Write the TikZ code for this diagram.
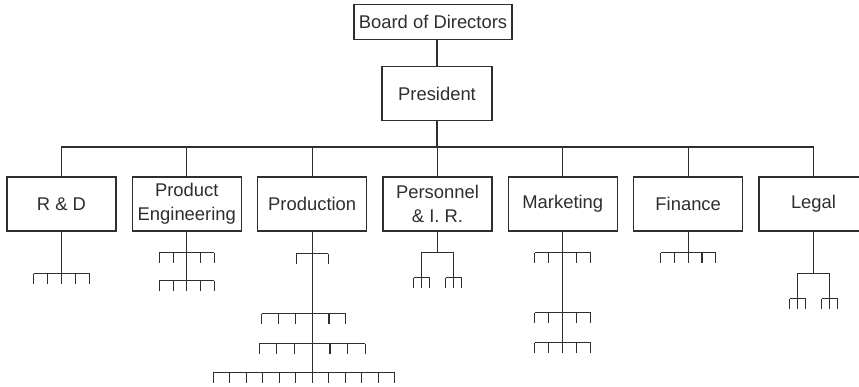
\documentclass[tikz,border=0pt]{standalone}
\usepackage{fontspec}
\setmainfont{Liberation Sans}
\usetikzlibrary{calc}

\definecolor{ink}{gray}{0.18}

\tikzset{
  unit/.style={draw, rectangle, minimum width=81.75pt, minimum height=40.5pt, align=center, inner sep=1pt},
}

% rake: centre coordinate, spacing, ticks left, ticks right
\newcommand\rake[4]{%
  \draw ($(#1)+(-#3*#2,0)$) -- ($(#1)+(#4*#2,0)$);
  \foreach \k in {-#3,...,#4} {\draw ($(#1)+(\k*#2,0)$) -- ++(0,10);}
}

\begin{document}
\begin{tikzpicture}[x=0.75pt, y=-0.75pt, line width=0.9pt, color=ink, every node/.style={font=\fontsize{13.8}{18}\selectfont}]
    \useasboundingbox (0,0) rectangle (859,386);

    % Direction
    \node[draw, rectangle, minimum width=118.5pt, minimum height=26pt] (board) at (433,22) {Board of Directors};
    \node[draw, rectangle, minimum width=82.5pt, minimum height=40pt] (pres) at (437,93.5) {President};

    % Departements
    \node[unit] (rd) at (61.5,204) {R \& D};
    \node[unit] (pe) at (186.8,204) {Product\\Engineering};
    \node[unit] (prod) at (312.2,204) {Production};
    \node[unit] (pers) at (437.5,204) {Personnel\\\& I. R.};
    \node[unit] (mkt) at (562.8,204) {Marketing};
    \node[unit] (fin) at (688.2,204) {Finance};
    \node[unit] (legal) at (813.5,204) {Legal};

    % Liens
    \coordinate (bus) at (437,147);
    \draw (board.south -| pres) -- (pres.north);
    \draw (pres.south) -- (bus);
    \draw (rd.north) |- (bus) -| (legal.north);
    \foreach \d in {pe,prod,pers,mkt,fin} \draw (\d.north) -- (\d.north |- bus);

    % R & D
    \coordinate (rd1) at ($(rd.south)+(0,42)$);
    \draw (rd.south) -- (rd1);
    \rake{rd1}{14}{2}{2}

    % Product Engineering
    \coordinate (pe1) at ($(pe.south)+(0,21)$);
    \coordinate (pe2) at ($(pe.south)+(0,49)$);
    \draw (pe.south) -- (pe2);
    \rake{pe1}{13.7}{2}{2}
    \rake{pe2}{13.7}{2}{2}

    % Production
    \coordinate (p1) at ($(prod.south)+(0,22)$);
    \coordinate (p2) at ($(prod.south)+(0,82)$);
    \coordinate (p3) at ($(prod.south)+(0,112)$);
    \coordinate (p4) at ($(prod.south)+(0,141)$);
    \draw (prod.south) -- (p4);
    \rake{p1}{16}{1}{1}
    \rake{p2}{16.8}{3}{2}
    \rake{p3}{17.7}{3}{3}
    \rake{p4}{16.5}{6}{5}

    % Personnel
    \coordinate (pers1) at ($(pers.south)+(0,21)$);
    \coordinate (persL) at ($(pers1)+(-16,25)$);
    \coordinate (persR) at ($(pers1)+(16,25)$);
    \draw (pers.south) -- (pers1);
    \draw (persL) |- (pers1) -| (persR);
    \rake{persL}{8}{1}{1}
    \rake{persR}{8}{1}{1}

    % Marketing
    \coordinate (m1) at ($(mkt.south)+(0,21)$);
    \coordinate (m2) at ($(mkt.south)+(0,81)$);
    \coordinate (m3) at ($(mkt.south)+(0,111)$);
    \draw (mkt.south) -- (m3);
    \rake{m1}{14}{2}{2}
    \rake{m2}{14}{2}{2}
    \rake{m3}{14}{2}{2}

    % Finance
    \coordinate (f1) at ($(fin.south)+(0,21)$);
    \draw (fin.south) -- (f1);
    \rake{f1}{13.7}{2}{2}

    % Legal
    \coordinate (l1) at ($(legal.south)+(0,42)$);
    \coordinate (lL) at ($(l1)+(-16,25)$);
    \coordinate (lR) at ($(l1)+(16,25)$);
    \draw (legal.south) -- (l1);
    \draw (lL) |- (l1) -| (lR);
    \rake{lL}{8}{1}{1}
    \rake{lR}{8}{1}{1}
\end{tikzpicture}
\end{document}
